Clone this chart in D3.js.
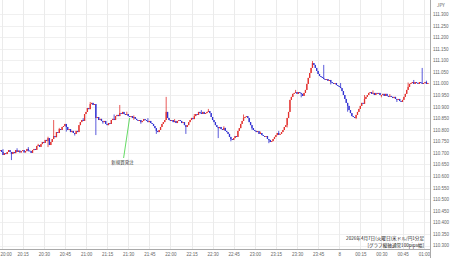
<!DOCTYPE html>
<html>
<head>
<meta charset="utf-8">
<script src="https://cdn.jsdelivr.net/npm/d3@7"></script>
<style>
  body { margin: 0; background: #fff; }
  svg { display: block; font-family: "Noto Sans CJK JP", "DejaVu Sans", sans-serif; }
</style>
</head>
<body>
<svg id="chart" width="450" height="258"></svg>
<script>
// USD/JPY 1 minute candles, first candle = 19:59, one value per minute
var startMinute = -1;   // minutes from 20:00

var closes = [
  110.712, 110.704, 110.691, 110.699, 110.695, 110.704, 110.712, 110.704, 110.695, 110.704, 110.699, 110.712, 110.704, 110.710, 110.702, 110.708,
  110.712, 110.702, 110.708, 110.717, 110.710, 110.708, 110.700, 110.712, 110.717, 110.713, 110.730, 110.734, 110.726, 110.738, 110.747,
  110.743, 110.756, 110.752, 110.764, 110.734, 110.747, 110.760, 110.773, 110.768, 110.790, 110.786, 110.803, 110.799, 110.812, 110.816,
  110.825, 110.812, 110.799, 110.803, 110.790, 110.795, 110.786, 110.782, 110.795, 110.790, 110.820, 110.833, 110.842, 110.838, 110.868,
  110.877, 110.894, 110.889, 110.911, 110.916, 110.907, 110.911, 110.851, 110.855, 110.842, 110.847, 110.838, 110.833, 110.838, 110.825,
  110.820, 110.829, 110.825, 110.842, 110.847, 110.842, 110.859, 110.864, 110.859, 110.872, 110.868, 110.877, 110.868, 110.864, 110.868,
  110.859, 110.855, 110.859, 110.851, 110.855, 110.847, 110.842, 110.838, 110.842, 110.833, 110.838, 110.846, 110.842, 110.838, 110.833,
  110.838, 110.829, 110.825, 110.816, 110.807, 110.795, 110.790, 110.799, 110.812, 110.825, 110.833, 110.842, 110.877, 110.851, 110.842,
  110.838, 110.842, 110.833, 110.838, 110.829, 110.838, 110.842, 110.838, 110.829, 110.833, 110.820, 110.812, 110.820, 110.833, 110.842,
  110.851, 110.846, 110.859, 110.868, 110.864, 110.877, 110.872, 110.868, 110.877, 110.868, 110.872, 110.877, 110.881, 110.872, 110.855,
  110.842, 110.833, 110.820, 110.812, 110.807, 110.812, 110.803, 110.799, 110.808, 110.795, 110.790, 110.782, 110.769, 110.760, 110.756,
  110.764, 110.773, 110.769, 110.795, 110.807, 110.825, 110.838, 110.851, 110.855, 110.859, 110.851, 110.833, 110.820, 110.807, 110.799,
  110.795, 110.790, 110.794, 110.782, 110.786, 110.777, 110.773, 110.769, 110.773, 110.760, 110.756, 110.747, 110.751, 110.760, 110.769,
  110.777, 110.786, 110.778, 110.782, 110.790, 110.799, 110.812, 110.820, 110.851, 110.877, 110.929, 110.942, 110.955, 110.959, 110.963,
  110.955, 110.963, 110.959, 110.955, 110.946, 110.959, 110.972, 110.998, 111.024, 111.045, 111.067, 111.088, 111.080, 111.067, 111.054,
  111.041, 111.032, 111.028, 111.024, 111.019, 111.015, 111.019, 111.011, 111.015, 111.006, 111.002, 110.998, 111.002, 110.993, 110.989,
  110.985, 110.980, 110.967, 110.950, 110.933, 110.916, 110.903, 110.885, 110.872, 110.859, 110.855, 110.851, 110.864, 110.877, 110.890,
  110.903, 110.916, 110.912, 110.933, 110.942, 110.950, 110.959, 110.963, 110.955, 110.959, 110.950, 110.959, 110.955, 110.959, 110.950,
  110.950, 110.955, 110.946, 110.955, 110.946, 110.942, 110.946, 110.942, 110.937, 110.942, 110.933, 110.929, 110.933, 110.924, 110.920,
  110.929, 110.942, 110.955, 110.972, 110.985, 110.998, 111.002, 111.006, 110.998, 111.006, 111.002, 110.998, 111.006, 111.002, 110.998,
  111.002, 111.006, 110.998, 111.002
];
var firstOpen = 110.708;

// wicks: [minute from 20:00, high, low]
var wicks = [
  [1, 110.716, 110.700], [7, null, 110.669], [11, 110.720, null], [19, 110.725, 110.706],
  [26, 110.739, null], [33, 110.770, 110.725], [37, 110.842, null], [41, 110.808, null],
  [46, null, 110.792], [52, null, 110.775], [58, 110.850, null], [63, 110.920, null],
  [67, null, 110.777], [72, null, 110.826], [80, 110.866, null], [84, 110.907, null],
  [89, 110.878, null], [94, 110.862, 110.843], [99, null, 110.826], [104, 110.850, null],
  [110, null, 110.782], [117, 110.942, null], [123, 110.846, null], [131, null, 110.782],
  [137, 110.868, null], [142, 110.885, null], [147, 110.890, null], [154, null, 110.764],
  [158, 110.815, null], [163, null, 110.750], [172, 110.866, null], [178, null, 110.800],
  [184, 110.792, null], [190, null, 110.742], [197, 110.795, null], [203, null, 110.810],
  [209, 110.972, null], [213, null, 110.940], [221, 111.097, null], [229, 111.080, null],
  [234, null, 110.996], [241, 111.002, null], [246, null, 110.878], [252, null, 110.846],
  [258, 110.950, null], [264, 110.970, null], [270, null, 110.940], [276, 110.954, null],
  [281, null, 110.920], [289, 111.004, null], [293, 111.015, null], [299, 111.067, null],
  [302, 111.012, null]
];

var yTicks = [111.3, 111.25, 111.2, 111.15, 111.1, 111.05, 111.0, 110.95, 110.9, 110.85,
  110.8, 110.75, 110.7, 110.65, 110.6, 110.55, 110.5, 110.45, 110.4, 110.35, 110.3];
var xTickMinutes = [0, 15, 30, 45, 60, 75, 90, 105, 120, 135, 150, 165, 180, 195, 210, 225, 240, 255, 270, 285, 300];
var xTickLabels = ['20:00', '20:15', '20:30', '20:45', '21:00', '21:15', '21:30', '21:45', '22:00', '22:15', '22:30',
  '22:45', '23:00', '23:15', '23:30', '23:45', '8', '00:15', '00:30', '00:45', '01:00'];

var noteMinute = 91;
var noteText = '新規買発注';
var captionLines = ['2026年4月7日(火曜日)米ドル/円1分足', '[グラフ縦軸通常100pips幅]'];

// build candles (open = previous close)
var wickMap = {};
wicks.forEach(function (w) { wickMap[w[0]] = w; });
var candles = closes.map(function (c, i) {
  var m = startMinute + i;
  var o = i === 0 ? firstOpen : closes[i - 1];
  var hi = Math.max(o, c), lo = Math.min(o, c);
  if (wickMap[m]) {
    if (wickMap[m][1] != null) hi = Math.max(hi, wickMap[m][1]);
    if (wickMap[m][2] != null) lo = Math.min(lo, wickMap[m][2]);
  }
  return { m: m, o: o, c: c, h: hi, l: lo };
});

var svg = d3.select('svg#chart');
var plotRight = 430, plotBottom = 249;

var x = d3.scaleLinear().domain([0, 300]).range([1.6, 423.6]);
var y = d3.scaleLinear().domain([110.3, 111.3]).range([245.5, 14]);

var up = '#e3312e', down = '#3131d2';

svg.append('defs').append('clipPath').attr('id', 'plotclip')
  .append('rect').attr('x', 0).attr('y', 0).attr('width', plotRight).attr('height', 258);

// grid
svg.append('g').selectAll('line')
  .data(yTicks)
  .enter().append('line')
  .attr('x1', 0).attr('x2', plotRight)
  .attr('y1', function (d) { return Math.round(y(d)) + 0.5; })
  .attr('y2', function (d) { return Math.round(y(d)) + 0.5; })
  .style('stroke', '#f0f0f0').style('stroke-width', 1);

svg.append('g').selectAll('line')
  .data(xTickMinutes)
  .enter().append('line')
  .attr('x1', function (d) { return Math.round(x(d)) + 0.5; })
  .attr('x2', function (d) { return Math.round(x(d)) + 0.5; })
  .attr('y1', 0).attr('y2', plotBottom)
  .style('stroke', '#ebebeb').style('stroke-width', 1);

// candles
var g = svg.append('g').attr('clip-path', 'url(#plotclip)');
var candle = g.selectAll('g.candle')
  .data(candles)
  .enter().append('g')
  .attr('class', 'candle');

candle.append('line')
  .attr('x1', function (d) { return x(d.m); })
  .attr('x2', function (d) { return x(d.m); })
  .attr('y1', function (d) { return y(d.h); })
  .attr('y2', function (d) { return y(d.l); })
  .style('stroke', function (d) { return d.c >= d.o ? up : down; })
  .style('stroke-width', 0.8);

candle.append('rect')
  .attr('x', function (d) { return x(d.m) - 0.65; })
  .attr('width', 1.3)
  .attr('y', function (d) { return y(Math.max(d.o, d.c)); })
  .attr('height', function (d) { return Math.max(0.8, Math.abs(y(d.o) - y(d.c))); })
  .style('fill', function (d) { return d.c >= d.o ? up : down; });

// axes
var xAxis = svg.append('g')
  .attr('transform', 'translate(0,' + plotBottom + ')')
  .call(d3.axisBottom(x).tickValues(xTickMinutes)
    .tickFormat(function (d, i) { return xTickLabels[i]; })
    .tickSize(0).tickPadding(3.5));
xAxis.select('.domain').remove();
xAxis.selectAll('text').style('font-size', '4.5px').style('fill', '#666');
// first and last labels sit at the plot edges
xAxis.selectAll('.tick text').filter(function (d) { return d === 0; })
  .attr('text-anchor', 'start').attr('x', -1.6);
xAxis.selectAll('.tick text').filter(function (d) { return d === 300; })
  .attr('text-anchor', 'end').attr('x', 6);

svg.append('line')
  .attr('x1', 0).attr('x2', plotRight)
  .attr('y1', plotBottom + 0.5).attr('y2', plotBottom + 0.5)
  .style('stroke', '#aaa').style('stroke-width', 1);

var yAxis = svg.append('g')
  .attr('transform', 'translate(' + plotRight + ',0)')
  .call(d3.axisRight(y).tickValues(yTicks).tickFormat(d3.format('.3f'))
    .tickSize(0).tickPadding(3));
yAxis.select('.domain').remove();
yAxis.selectAll('text').style('font-size', '4.5px').style('fill', '#666');

svg.append('line')
  .attr('x1', plotRight + 0.5).attr('x2', plotRight + 0.5)
  .attr('y1', 0).attr('y2', 258)
  .style('stroke', '#aaa').style('stroke-width', 1);

svg.append('text')
  .attr('x', 437).attr('y', 7)
  .text('JPY')
  .style('font-size', '4.5px').style('fill', '#555');

// annotation
var noteCandle = candles.filter(function (d) { return d.m === noteMinute; })[0];
svg.append('line')
  .attr('x1', x(noteCandle.m)).attr('y1', y(noteCandle.c) + 1)
  .attr('x2', x(noteCandle.m) - 6).attr('y2', 158)
  .style('stroke', '#3ed23e').style('stroke-width', 0.8);

svg.append('text')
  .attr('x', x(noteCandle.m) - 7).attr('y', 164)
  .attr('text-anchor', 'middle')
  .text(noteText)
  .style('font-size', '4.5px').style('fill', '#333');

// caption
svg.append('g').selectAll('text')
  .data(captionLines)
  .enter().append('text')
  .attr('x', 424)
  .attr('y', function (d, i) { return 240 + i * 6.5; })
  .attr('text-anchor', 'end')
  .text(function (d) { return d; })
  .style('font-size', '4.6px').style('fill', '#222');
</script>
</body>
</html>
